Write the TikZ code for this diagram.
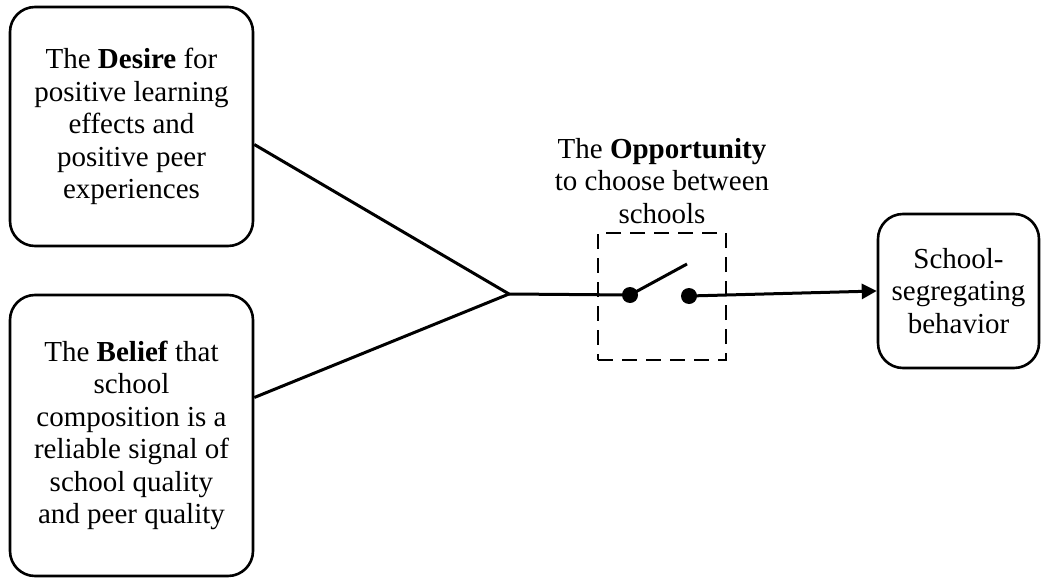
\documentclass[tikz,border=0pt]{standalone}
\usepackage{fontspec}
\setmainfont{Liberation Serif}
\usetikzlibrary{arrows.meta}
\begin{document}
\begin{tikzpicture}[x=1pt,y=-1pt,
  box/.style={draw, line width=2.6pt, rounded corners=25pt, align=center, inner sep=0pt},
  txt/.style={font=\fontsize{29}{32.5}\selectfont},
  conn/.style={line width=3pt},
  dot/.style={circle, fill=black, inner sep=0pt, minimum size=16pt},
  switchbox/.style={draw, line width=2.6pt, dash pattern=on 15pt off 9pt, inner sep=0pt}
  ]
\useasboundingbox (0,0) rectangle (1041,578);
\node[box, txt, minimum width=243pt, minimum height=239pt] (desire) at (131.5,126.5)
  {The \textbf{Desire} for\\positive learning\\effects and\\positive peer\\experiences};
\node[box, txt, minimum width=243pt, minimum height=281pt] (belief) at (131.5,435.5)
  {The \textbf{Belief} that\\school\\composition is a\\reliable signal of\\school quality\\and peer quality};
\node[box, txt, minimum width=161pt, minimum height=154pt] (school) at (958.5,291)
  {School-\\segregating\\behavior};
\node[switchbox, minimum width=128pt, minimum height=127pt] (sw) at (662,296.5) {};
\node[txt, align=center] (opp) at (662,181)
  {The \textbf{Opportunity}\\to choose between\\schools};
\node[dot] (s1) at (630,295) {};
\node[dot] (s2) at (689,296) {};
\coordinate (lev) at (687,264);
\coordinate (j) at (509,294);
\draw[conn] ([yshift=-18pt]desire.east) -- (j);
\draw[conn] ([yshift=38pt]belief.east) -- (j);
\draw[conn] (j) -- (s1.center);
\draw[conn] (s1.center) -- (lev);
\draw[conn, -{Triangle[length=15pt,width=15pt]}] (s2.center) -- (school.west);
\end{tikzpicture}
\end{document}
